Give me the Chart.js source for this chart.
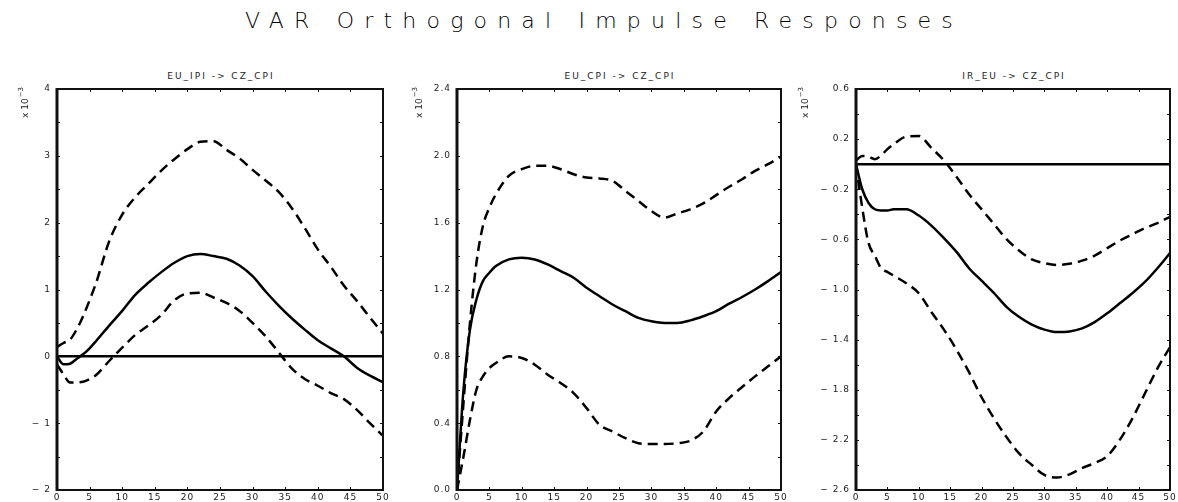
<!DOCTYPE html>
<html lang="en">
<head>
<meta charset="UTF-8">
<title>VAR Orthogonal Impulse Responses</title>
<script src="https://cdn.jsdelivr.net/npm/chart.js"></script>
<style>
    body {
        margin: 0;
        width: 1178px;
        height: 502px;
        overflow: hidden;
        background: #fff;
        position: relative;
        font-family: "DejaVu Sans", sans-serif;
    }
    #title {
        position: absolute;
        top: 10px;
        left: 245px;
        white-space: nowrap;
        font-size: 22px;
        line-height: 22px;
        letter-spacing: 10.2px;
        font-weight: 200;
        color: #000;
    }
    .sub {
        position: absolute;
        top: 71px;
        width: 200px;
        font-size: 9px;
        letter-spacing: 2px;
        text-align: center;
        color: #222;
    }
    canvas { position: absolute; top: 60px; }
</style>
</head>
<body>
<div id="title">VAR Orthogonal Impulse Responses</div>
<div class="sub" id="sub1">EU_IPI -&gt; CZ_CPI</div>
<div class="sub" id="sub2">EU_CPI -&gt; CZ_CPI</div>
<div class="sub" id="sub3">IR_EU -&gt; CZ_CPI</div>
<canvas id="c1"></canvas>
<canvas id="c2"></canvas>
<canvas id="c3"></canvas>
<script>
// horizon steps (shared by all panels)
const steps = [0, 1, 2, 3, 4, 5, 6, 8, 10, 12, 14, 16, 18, 20, 22, 24, 26, 28, 30, 32, 34, 36, 38, 40, 42, 44, 46, 48, 50];
const xTicks = [0, 5, 10, 15, 20, 25, 30, 35, 40, 45, 50];

// EU_IPI -> CZ_CPI  (x 10^-3)
const ipiResp  = [0, -0.12, -0.11, -0.04, 0.03, 0.12, 0.23, 0.46, 0.68, 0.92, 1.1, 1.26, 1.4, 1.5, 1.53, 1.5, 1.46, 1.36, 1.2, 0.97, 0.76, 0.57, 0.4, 0.24, 0.12, 0, -0.17, -0.29, -0.385];
const ipiUpper = [0.14, 0.2, 0.25, 0.4, 0.6, 0.84, 1.1, 1.72, 2.12, 2.38, 2.58, 2.78, 2.95, 3.1, 3.21, 3.22, 3.09, 2.96, 2.79, 2.63, 2.46, 2.22, 1.92, 1.6, 1.34, 1.06, 0.83, 0.58, 0.34];
const ipiLower = [-0.12, -0.27, -0.39, -0.39, -0.38, -0.34, -0.28, -0.07, 0.13, 0.32, 0.46, 0.62, 0.84, 0.94, 0.95, 0.88, 0.8, 0.68, 0.5, 0.3, 0.06, -0.18, -0.34, -0.44, -0.55, -0.64, -0.8, -1.0, -1.19];
const ipiTicks = [-2, -1, 0, 1, 2, 3, 4];
const ipiMinor = [-1.5, -0.5, 0.5, 1.5, 2.5, 3.5];

// EU_CPI -> CZ_CPI
const cpiResp  = [0, 0.6, 0.96, 1.14, 1.25, 1.3, 1.34, 1.38, 1.39, 1.38, 1.35, 1.31, 1.27, 1.21, 1.16, 1.11, 1.07, 1.03, 1.01, 1.0, 1.0, 1.015, 1.04, 1.07, 1.115, 1.155, 1.2, 1.25, 1.305];
const cpiUpper = [0, 0.52, 1.0, 1.36, 1.58, 1.69, 1.77, 1.88, 1.92, 1.94, 1.94, 1.92, 1.89, 1.87, 1.865, 1.85, 1.79, 1.73, 1.67, 1.63, 1.655, 1.68, 1.715, 1.765, 1.815, 1.86, 1.91, 1.95, 1.995];
const cpiLower = [0, 0.2, 0.42, 0.6, 0.68, 0.73, 0.76, 0.8, 0.79, 0.75, 0.69, 0.64, 0.58, 0.49, 0.39, 0.35, 0.31, 0.28, 0.275, 0.275, 0.28, 0.295, 0.35, 0.47, 0.55, 0.616, 0.68, 0.74, 0.8];
const cpiTicks = [0.0, 0.4, 0.8, 1.2, 1.6, 2.0, 2.4];
const cpiMinor = [0.2, 0.6, 1.0, 1.4, 1.8, 2.2];

// IR_EU -> CZ_CPI
const irResp  = [0, -0.2, -0.31, -0.36, -0.37, -0.37, -0.36, -0.36, -0.41, -0.49, -0.59, -0.7, -0.83, -0.93, -1.03, -1.14, -1.22, -1.28, -1.32, -1.34, -1.335, -1.31, -1.26, -1.19, -1.11, -1.03, -0.94, -0.83, -0.71];
const irUpper = [0.03, 0.065, 0.06, 0.04, 0.07, 0.12, 0.16, 0.22, 0.225, 0.13, 0.03, -0.1, -0.24, -0.36, -0.48, -0.6, -0.69, -0.76, -0.79, -0.805, -0.795, -0.77, -0.73, -0.67, -0.61, -0.56, -0.51, -0.47, -0.42];
const irLower = [0, -0.35, -0.63, -0.73, -0.83, -0.86, -0.89, -0.95, -1.03, -1.18, -1.32, -1.48, -1.66, -1.86, -2.03, -2.18, -2.31, -2.4, -2.48, -2.5, -2.475, -2.425, -2.385, -2.33, -2.2, -2.03, -1.83, -1.63, -1.46];
const irTicks = [-2.6, -2.2, -1.8, -1.4, -1.0, -0.6, -0.2, 0.2, 0.6];
const irMinor = [-2.4, -2.0, -1.6, -1.2, -0.8, -0.4, 0.0, 0.4];

const AXIS_W = 60;   // room left of the plot for tick labels + unit label
const RIGHT_PAD = 12;

function fmt(v, dec) {
    const s = Math.abs(v).toFixed(dec);
    return v < 0 ? '\u2212 ' + s : s;
}

function pts(ys) {
    return ys.map((y, i) => ({ x: steps[i], y: y }));
}

// draws the box, the little inward ticks and the "x 10^-3" unit label
const framePlugin = {
    id: 'frame',
    beforeDraw(chart) {
        chart.ctx.letterSpacing = '1px';
    },
    afterDraw(chart, args, opts) {
        const ctx = chart.ctx;
        const a = chart.chartArea;
        const xs = chart.scales.x, ys = chart.scales.y;
        ctx.save();
        ctx.letterSpacing = '0px';
        ctx.strokeStyle = '#111';
        ctx.lineWidth = 2;
        ctx.strokeRect(a.left, a.top, a.right - a.left, a.bottom - a.top);
        ctx.lineWidth = 3;
        ctx.beginPath();
        ctx.moveTo(a.left, a.top - 1);
        ctx.lineTo(a.left, a.bottom + 1);
        ctx.stroke();

        ctx.lineWidth = 1;
        ctx.beginPath();
        opts.yMarks.forEach(v => {
            const py = Math.round(ys.getPixelForValue(v)) + 0.5;
            ctx.moveTo(a.left, py); ctx.lineTo(a.left + 3, py);
            ctx.moveTo(a.right, py); ctx.lineTo(a.right - 3, py);
        });
        xTicks.forEach(v => {
            const px = Math.round(xs.getPixelForValue(v)) + 0.5;
            ctx.moveTo(px, a.top); ctx.lineTo(px, a.top + 3);
            ctx.moveTo(px, a.bottom); ctx.lineTo(px, a.bottom - 3);
        });
        ctx.stroke();

        // unit label, rotated
        ctx.translate(opts.unitX, 43);
        ctx.rotate(-Math.PI / 2);
        ctx.fillStyle = '#222';
        ctx.textBaseline = 'alphabetic';
        ctx.font = '9px "DejaVu Sans"';
        const base = 'x 10';
        const w1 = ctx.measureText(base).width;
        ctx.font = '7px "DejaVu Sans"';
        const w2 = ctx.measureText('\u22123').width;
        const start = -(w1 + w2) / 2;
        ctx.font = '9px "DejaVu Sans"';
        ctx.fillText(base, start, 3);
        ctx.font = '7px "DejaVu Sans"';
        ctx.fillText('\u22123', start + w1 + 1, -2);
        ctx.restore();
    }
};

const panels = [
    { id: 'c1', sub: 'sub1', L: 57,  R: 383,  unitX: 25,  ticks: ipiTicks, minor: ipiMinor, dec: 0,
      resp: ipiResp, upper: ipiUpper, lower: ipiLower, zero: true },
    { id: 'c2', sub: 'sub2', L: 457, R: 781,  unitX: 419, ticks: cpiTicks, minor: cpiMinor, dec: 1,
      resp: cpiResp, upper: cpiUpper, lower: cpiLower, zero: false },
    { id: 'c3', sub: 'sub3', L: 856, R: 1170, unitX: 805, ticks: irTicks, minor: irMinor, dec: 1,
      resp: irResp, upper: irUpper, lower: irLower, zero: true }
];

panels.forEach(p => {
    const canvas = document.getElementById(p.id);
    const left = p.L - AXIS_W;
    const w = (p.R - p.L) + AXIS_W + RIGHT_PAD;
    canvas.width = w;
    canvas.height = 442;
    canvas.style.left = left + 'px';
    canvas.style.width = w + 'px';
    canvas.style.height = '442px';

    const sub = document.getElementById(p.sub);
    sub.style.left = ((p.L + p.R) / 2 - 99) + 'px';

    const lineStyle = {
        borderColor: '#000',
        borderWidth: 2.5,
        pointRadius: 0,
        fill: false,
        cubicInterpolationMode: 'monotone'
    };

    const datasets = [
        Object.assign({ data: pts(p.upper), borderDash: [10, 6] }, lineStyle),
        Object.assign({ data: pts(p.lower), borderDash: [10, 6] }, lineStyle),
        Object.assign({ data: pts(p.resp) }, lineStyle)
    ];
    if (p.zero) {
        datasets.push({ data: [{ x: 0, y: 0 }, { x: 50, y: 0 }], borderColor: '#000', borderWidth: 2.5, pointRadius: 0 });
    }

    new Chart(canvas.getContext('2d'), {
        type: 'line',
        data: { datasets: datasets },
        options: {
            responsive: false,
            animation: false,
            layout: { padding: { top: 29, right: RIGHT_PAD, bottom: 0, left: 0 } },
            plugins: {
                legend: { display: false },
                tooltip: { enabled: false },
                frame: { yMarks: p.ticks.concat(p.minor), unitX: p.unitX - left }
            },
            scales: {
                x: {
                    type: 'linear',
                    min: 0,
                    max: 50,
                    afterBuildTicks: s => { s.ticks = xTicks.map(v => ({ value: v })); },
                    afterFit: s => { s.height = 12; },
                    grid: { display: false, drawTicks: false },
                    border: { display: false },
                    ticks: {
                        font: { size: 9, family: 'DejaVu Sans' },
                        color: '#222',
                        padding: 2,
                        maxRotation: 0,
                        autoSkip: false
                    }
                },
                y: {
                    min: p.ticks[0],
                    max: p.ticks[p.ticks.length - 1],
                    afterBuildTicks: s => { s.ticks = p.ticks.map(v => ({ value: v })); },
                    afterFit: s => { s.width = AXIS_W; },
                    grid: { display: false, drawTicks: false },
                    border: { display: false },
                    ticks: {
                        callback: (v, i) => fmt(p.ticks[i], p.dec),
                        font: { size: 9, family: 'DejaVu Sans' },
                        color: '#222',
                        padding: 6,
                        autoSkip: false
                    }
                }
            }
        },
        plugins: [framePlugin]
    });
});
</script>
</body>
</html>
